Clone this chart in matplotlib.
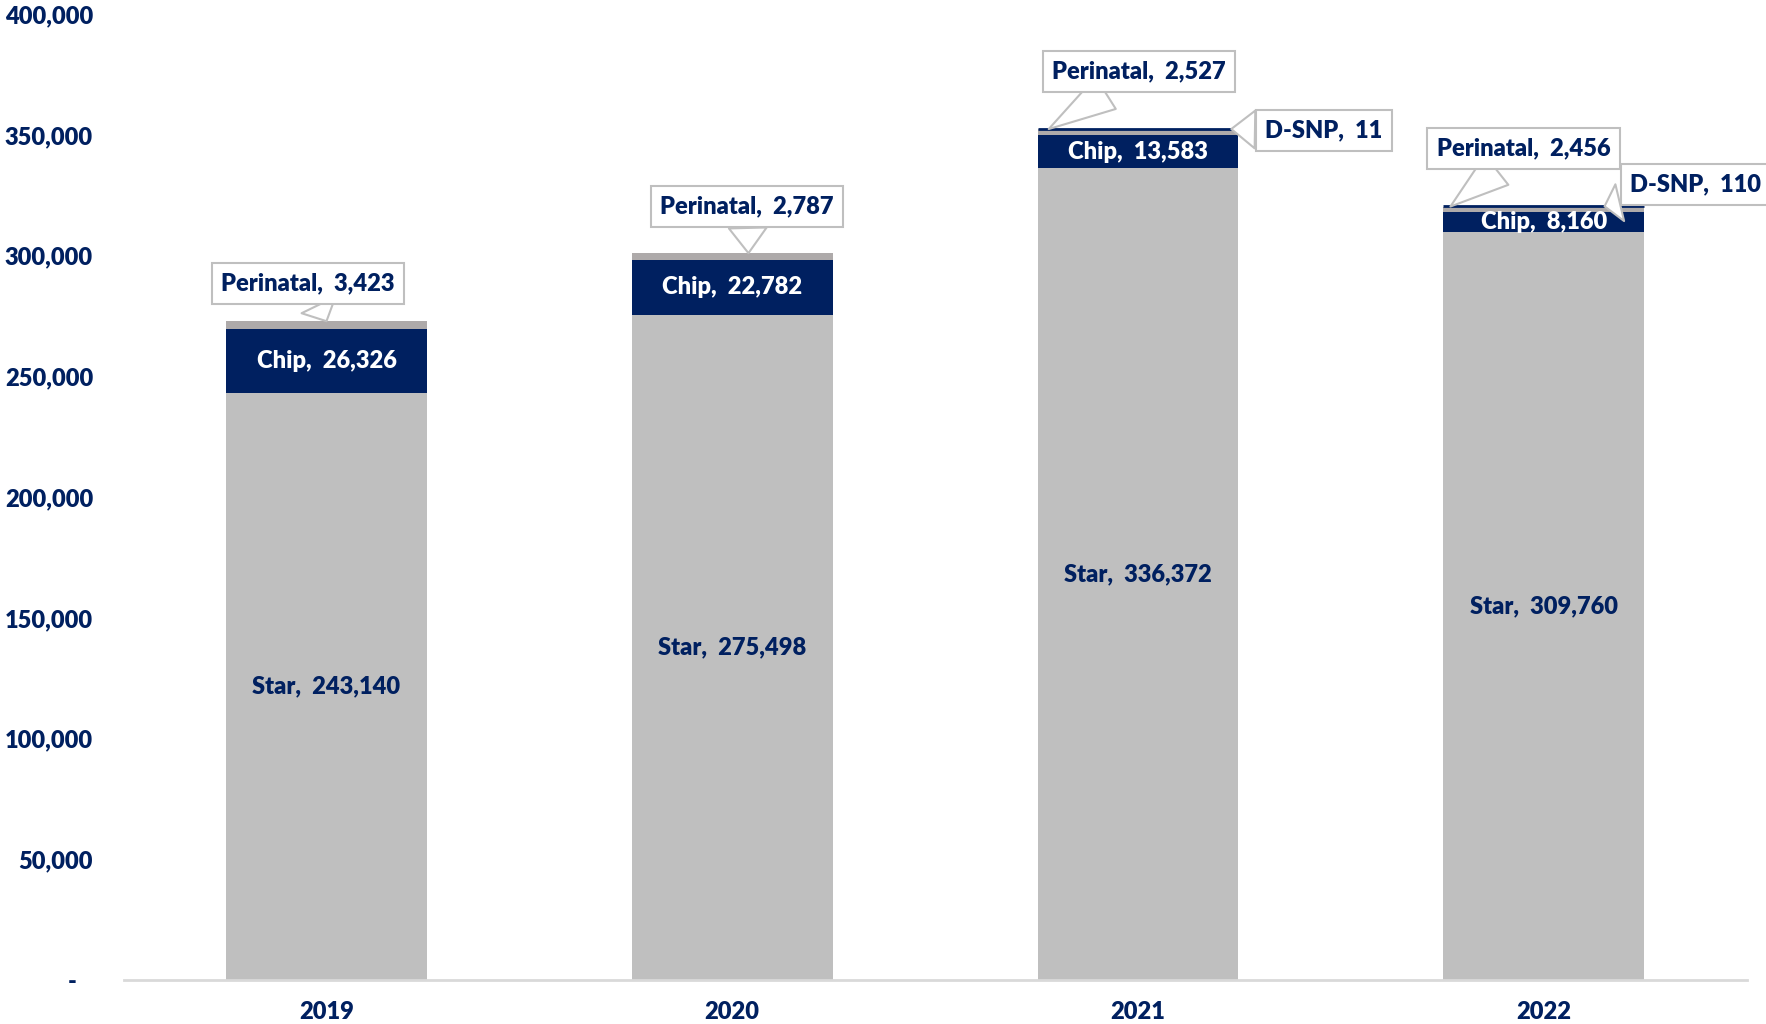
import numpy as np
import matplotlib.pyplot as plt
from matplotlib.ticker import FuncFormatter

years = ["2019", "2020", "2021", "2022"]
star = [243140, 275498, 336372, 309760]
chip = [26326, 22782, 13583, 8160]
perinatal = [3423, 2787, 2527, 2456]
dsnp = [0, 0, 11, 110]

navy = "#002060"
gray = "#BFBFBF"
peri_gray = "#AEAAAA"

plt.rcParams['font.family'] = ['Lato', 'DejaVu Sans']
wt = 'heavy'

fig = plt.figure(figsize=(17.66, 10.24), dpi=100)
ax = fig.add_axes([0.070, 0.043, 0.919, 0.943])

x = np.arange(len(years))
w = 0.495
star = np.array(star)
chip = np.array(chip)
perinatal = np.array(perinatal)
dsnp = np.array(dsnp)

ax.bar(x, star, w, color=gray)
ax.bar(x, chip, w, bottom=star, color=navy)
ax.bar(x, perinatal, w, bottom=star + chip, color=peri_gray)
top = star + chip + perinatal
for i in range(len(years)):
    if dsnp[i] > 0:
        ax.plot([x[i] - w / 2, x[i] + w / 2], [top[i] + dsnp[i], top[i] + dsnp[i]],
                color=navy, lw=2, solid_capstyle="butt")

fs = 17
for i in range(len(years)):
    ax.text(x[i], star[i] / 2, f"Star,  {star[i]:,}", ha="center", va="center",
            color=navy, fontsize=fs, fontweight=wt)
    ax.text(x[i], star[i] + chip[i] / 2, f"Chip,  {chip[i]:,}", ha="center", va="center",
            color="white", fontsize=fs, fontweight=wt)

box = dict(boxstyle="square,pad=0.4", fc="white", ec="#BFBFBF", lw=1.5)
wedge = dict(arrowstyle="wedge,tail_width=1.6", fc="white", ec="#BFBFBF", lw=1.5,
             shrinkA=0, shrinkB=0)

# perinatal callouts: (text x offset, text y, target x offset)
peri_pos = [(-0.045, 288400, 0.0), (0.037, 320300, 0.04), (0.003, 376200, -0.22), (-0.05, 344300, -0.23)]
for i, (dx, ty, px) in enumerate(peri_pos):
    ax.annotate(f"Perinatal,  {perinatal[i]:,}", xy=(x[i] + px, top[i]),
                xytext=(x[i] + dx, ty), ha="center", va="center",
                color=navy, fontsize=fs, fontweight=wt, bbox=box, arrowprops=wedge)

dsnp_pos = {2: (0.458, 351800, 0.23), 3: (0.374, 329400, 0.15)}
for i, (dx, ty, px) in dsnp_pos.items():
    ax.annotate(f"D-SNP,  {dsnp[i]:,}", xy=(x[i] + px, top[i] + dsnp[i]),
                xytext=(x[i] + dx, ty), ha="center", va="center",
                color=navy, fontsize=fs, fontweight=wt, bbox=box, arrowprops=wedge)

ax.set_xlim(-0.5, 3.5)
ax.set_ylim(0, 400000)
ax.set_yticks(np.arange(0, 400001, 50000))
ax.yaxis.set_major_formatter(FuncFormatter(lambda v, p: "-   " if v == 0 else f"{int(v):,}"))
ax.set_xticks(x)
ax.set_xticklabels(years)
ax.tick_params(axis="y", length=0, pad=22, labelsize=fs, labelcolor=navy)
ax.tick_params(axis="x", length=0, pad=15, labelsize=fs, labelcolor=navy)
for lab in ax.get_xticklabels() + ax.get_yticklabels():
    lab.set_fontweight(wt)
for s in ["top", "right", "left"]:
    ax.spines[s].set_visible(False)
ax.spines["bottom"].set_color("#D9D9D9")
ax.spines["bottom"].set_linewidth(2)

fig.savefig("out.png", dpi=100)
